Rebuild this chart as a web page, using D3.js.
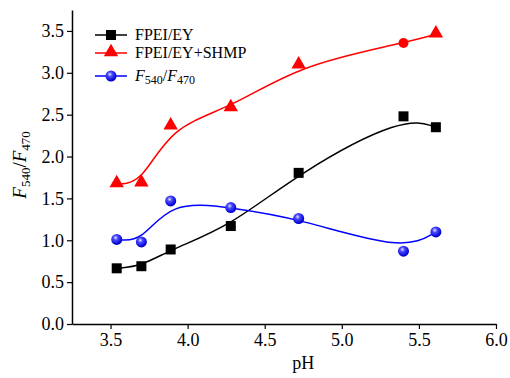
<!DOCTYPE html>
<html>
<head>
<meta charset="utf-8">
<script src="https://cdn.jsdelivr.net/npm/d3@7"></script>
<style>
  body { margin: 0; background: #fff; }
  svg { display: block; }
  svg text { font-family: "Liberation Serif", "Times New Roman", serif; fill: #000; }
</style>
</head>
<body>
<div id="chart"></div>
<script>
// data
const ph = [3.54, 3.70, 3.89, 4.28, 4.72, 5.40, 5.61];
const fpeiEy = [0.665, 0.69, 0.89, 1.17, 1.805, 2.48, 2.35];
const fpeiEyShmp = [1.67, 1.68, 2.36, 2.58, 3.09, 3.355, 3.46];
const ratio = [1.01, 0.98, 1.47, 1.39, 1.26, 0.87, 1.10];
const xTicks = [3.5, 4.0, 4.5, 5.0, 5.5, 6.0];
const yTicks = [0.0, 0.5, 1.0, 1.5, 2.0, 2.5, 3.0, 3.5];

const W = 510, H = 378;
const svg = d3.select("#chart").append("svg")
  .attr("width", W)
  .attr("height", H);

const x = d3.scaleLinear().domain([3.25, 6.0]).range([72, 496]);
const y = d3.scaleLinear().domain([0, 3.75]).range([324, 10]);

// blue ball gradient
const defs = svg.append("defs");
const grad = defs.append("radialGradient")
  .attr("id", "ball")
  .attr("cx", "40%").attr("cy", "35%").attr("r", "60%");
grad.append("stop").attr("offset", "0%").attr("stop-color", "#e8e8ff");
grad.append("stop").attr("offset", "35%").attr("stop-color", "#4a4aff");
grad.append("stop").attr("offset", "100%").attr("stop-color", "#0000d0");

// axes
const xAxis = svg.append("g")
  .attr("transform", `translate(0,${y(0)})`)
  .call(d3.axisBottom(x).tickValues(xTicks).tickFormat(d3.format(".1f")).tickSize(5).tickPadding(4).tickSizeOuter(0));
const yAxis = svg.append("g")
  .attr("transform", `translate(${x(3.25)},0)`)
  .call(d3.axisLeft(y).tickValues(yTicks).tickFormat(d3.format(".1f")).tickSize(5).tickPadding(3).tickSizeOuter(0));

[xAxis, yAxis].forEach(a => {
  a.attr("font-family", "Liberation Serif, serif").attr("font-size", 18);
  a.select(".domain").attr("stroke", "#000").attr("stroke-width", 1.5);
  a.selectAll(".tick line").attr("stroke", "#000").attr("stroke-width", 1.2);
  a.selectAll("text").attr("fill", "#000");
});

// axis labels
svg.append("text")
  .attr("x", x(4.75))
  .attr("y", 369)
  .attr("text-anchor", "middle")
  .style("font-size", "18px")
  .text("pH");

const yl = svg.append("text")
  .attr("transform", `translate(26,${y(1.9)}) rotate(-90)`)
  .attr("text-anchor", "middle")
  .style("font-size", "19px");
yl.append("tspan").style("font-style", "italic").text("F");
yl.append("tspan").attr("dy", 4).style("font-size", "13px").text("540");
yl.append("tspan").attr("dy", -4).text("/");
yl.append("tspan").style("font-style", "italic").text("F");
yl.append("tspan").attr("dy", 4).style("font-size", "13px").text("470");

// smooth curves
const line = vals => d3.line()
  .x((d, i) => x(ph[i]))
  .y(d => y(d))
  .curve(d3.curveBasis)(vals);

svg.append("path").attr("d", line(fpeiEyShmp))
  .attr("fill", "none").attr("stroke", "#ff0000").attr("stroke-width", 1.5);
svg.append("path").attr("d", line(fpeiEy))
  .attr("fill", "none").attr("stroke", "#000").attr("stroke-width", 1.5);
svg.append("path").attr("d", line(ratio))
  .attr("fill", "none").attr("stroke", "#0000ff").attr("stroke-width", 1.5);

// markers
const sq = 10;
svg.selectAll("rect.sq").data(fpeiEy).enter().append("rect")
  .attr("class", "sq")
  .attr("x", (d, i) => x(ph[i]) - sq / 2)
  .attr("y", d => y(d) - sq / 2)
  .attr("width", sq).attr("height", sq)
  .attr("fill", "#000");

const tri = d3.symbol().type(d3.symbolTriangle).size(90);
const shmpPts = fpeiEyShmp.map((v, i) => ({ x: ph[i], v, i }));
svg.selectAll("path.tri").data(shmpPts.filter(d => d.i !== 5)).enter().append("path")
  .attr("class", "tri")
  .attr("d", tri)
  .attr("transform", d => `translate(${x(d.x)},${y(d.v) - 1})`)
  .attr("fill", "#ff0000");
// the 5.4 point is drawn as a dot in the original
svg.selectAll("circle.rdot").data(shmpPts.filter(d => d.i === 5)).enter().append("circle")
  .attr("class", "rdot")
  .attr("cx", d => x(d.x)).attr("cy", d => y(d.v)).attr("r", 5)
  .attr("fill", "#ff0000");

svg.selectAll("circle.ball").data(ratio).enter().append("circle")
  .attr("class", "ball")
  .attr("cx", (d, i) => x(ph[i]))
  .attr("cy", d => y(d))
  .attr("r", 5.5)
  .attr("fill", "url(#ball)");

// legend
const legend = svg.append("g").attr("transform", "translate(95,0)");
const items = [
  { label: "FPEI/EY", color: "#000", type: "sq", yy: 35 },
  { label: "FPEI/EY+SHMP", color: "#ff0000", type: "tri", yy: 53 },
  { label: "ratio", color: "#0000ff", type: "ball", yy: 76 }
];
items.forEach(it => {
  legend.append("line")
    .attr("x1", 0).attr("x2", 32)
    .attr("y1", it.yy).attr("y2", it.yy)
    .attr("stroke", it.color).attr("stroke-width", 1.5);
  if (it.type === "sq") {
    legend.append("rect").attr("x", 11).attr("y", it.yy - 5).attr("width", 10).attr("height", 10).attr("fill", "#000");
  } else if (it.type === "tri") {
    legend.append("path").attr("d", tri).attr("transform", `translate(16,${it.yy - 1})`).attr("fill", "#ff0000");
  } else {
    legend.append("circle").attr("cx", 16).attr("cy", it.yy).attr("r", 5.5).attr("fill", "url(#ball)");
  }
  const t = legend.append("text")
    .attr("x", 40).attr("y", it.yy + 5)
    .style("font-size", "16px");
  if (it.type === "ball") {
    t.append("tspan").style("font-style", "italic").text("F");
    t.append("tspan").attr("dy", 3).style("font-size", "12px").text("540");
    t.append("tspan").attr("dy", -3).text("/");
    t.append("tspan").style("font-style", "italic").text("F");
    t.append("tspan").attr("dy", 3).style("font-size", "12px").text("470");
  } else {
    t.text(it.label);
  }
});
</script>
</body>
</html>
